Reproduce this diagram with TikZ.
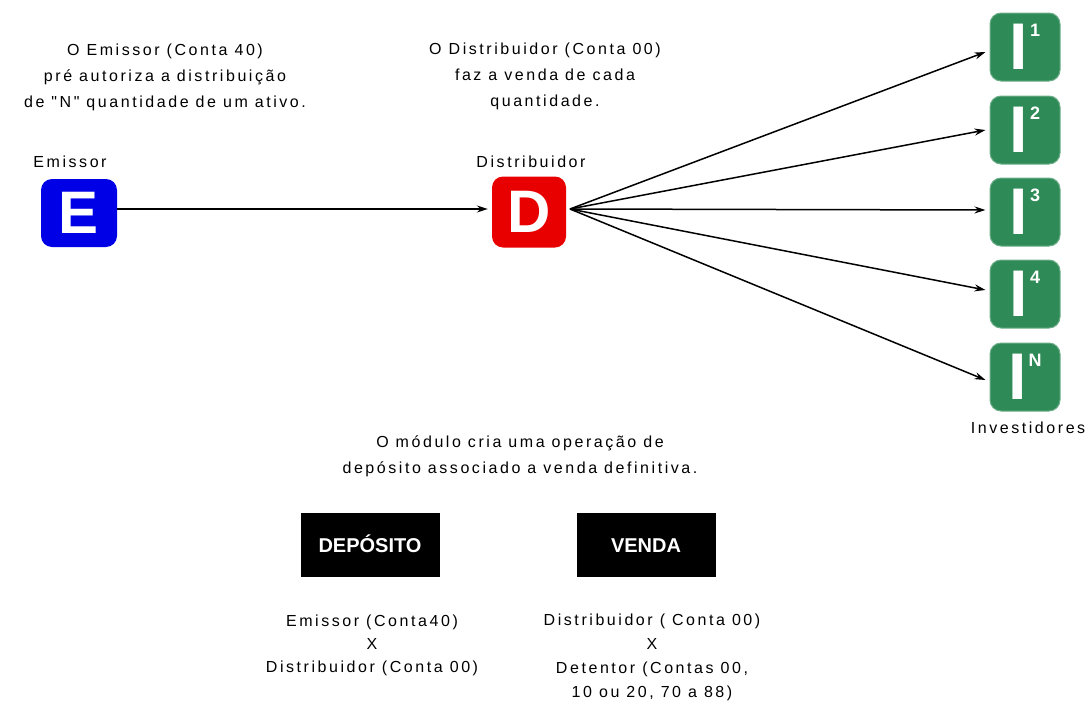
\documentclass[tikz,border=0pt]{standalone}
\usepackage{fontspec}
\setmainfont{Liberation Sans}
\newfontfamily\pix[LetterSpace=16]{Liberation Sans}
\usetikzlibrary{arrows.meta}
\definecolor{eblue}{RGB}{0,0,230}
\definecolor{dred}{RGB}{232,0,0}
\definecolor{igreen}{RGB}{46,139,87}
\newcommand{\isup}[1]{{\fontsize{66}{66}\selectfont\bfseries I}\hspace{2pt}\raisebox{33pt}{\fontsize{18}{18}\selectfont\bfseries #1}}
\begin{document}
\begin{tikzpicture}[x=1pt,y=-1pt,
  lbl/.style={font=\pix\fontsize{16}{26}\selectfont, align=center, text=black, inner sep=0pt},
  letterbox/.style={rounded corners=11pt, minimum width=76pt, minimum height=68pt, inner sep=0pt, text=white, font=\fontsize{60}{60}\selectfont\bfseries},
  ibox/.style={rounded corners=11pt, fill=igreen, draw=igreen!70!white, line width=1pt, minimum width=70pt, minimum height=68pt, inner sep=0pt, text=white},
  opbox/.style={fill=black, minimum width=139pt, minimum height=64pt, inner sep=0pt, text height=15pt, text depth=1pt, text=white, font=\fontsize{20}{20}\selectfont\bfseries},
  arr/.style={-{Stealth[length=11pt,width=7pt]}, line width=1.5pt}]
\useasboundingbox (0,0) rectangle (1092,707);
% top notes
\node[lbl] (t1) at (165,77) {O Emissor (Conta 40)\\pré autoriza a distribuição\\de "N" quantidade de um ativo.};
\node[lbl] (t2) at (545,76) {O Distribuidor (Conta 00)\\faz a venda de cada\\quantidade.};
% main nodes
\node[letterbox, fill=eblue] (e) at (79,213) {E};
\node[lbl] (elab) at (70,162) {Emissor};
\node[letterbox, fill=dred, minimum width=74pt, minimum height=71pt] (d) at (529,212) {D};
\node[lbl] (dlab) at (531,162) {Distribuidor};
% investors
\node[ibox] (i1) at (1025,47) {\isup{1}};
\node[ibox] (i2) at (1025,130) {\isup{2}};
\node[ibox] (i3) at (1025,212) {\isup{3}};
\node[ibox] (i4) at (1025,294) {\isup{4}};
\node[ibox] (i5) at (1025,377) {\isup{N}};
\node[lbl] (ilab) at (1028,428) {Investidores};
% connectors
\coordinate (ds) at (570,209);
\draw[arr, shorten >=4pt] (e.east |- 0,209) -- (d.west |- 0,209);
\draw[arr] (ds) -- ([xshift=-4pt]i1.west |- 0,52);
\draw[arr] (ds) -- ([xshift=-4pt]i2.west |- 0,130);
\draw[arr] (ds) -- ([xshift=-4pt]i3.west |- 0,210);
\draw[arr] (ds) -- ([xshift=-4pt]i4.west |- 0,290);
\draw[arr] (ds) -- ([xshift=-4pt]i5.west |- 0,380);
% bottom
\node[lbl] (t3) at (520,456) {O módulo cria uma operação de\\depósito associado a venda definitiva.};
\node[opbox] (dep) at (370,545) {DEPÓSITO};
\node[opbox] (ven) at (646,545) {VENDA};
\node[lbl, font=\pix\fontsize{16}{23}\selectfont] (t4) at (372,645) {Emissor (Conta40)\\X\\Distribuidor (Conta 00)};
\node[lbl, font=\pix\fontsize{16}{24}\selectfont] (t5) at (652,657) {Distribuidor ( Conta 00)\\X\\Detentor (Contas 00,\\10 ou 20, 70 a 88)};
\end{tikzpicture}
\end{document}
